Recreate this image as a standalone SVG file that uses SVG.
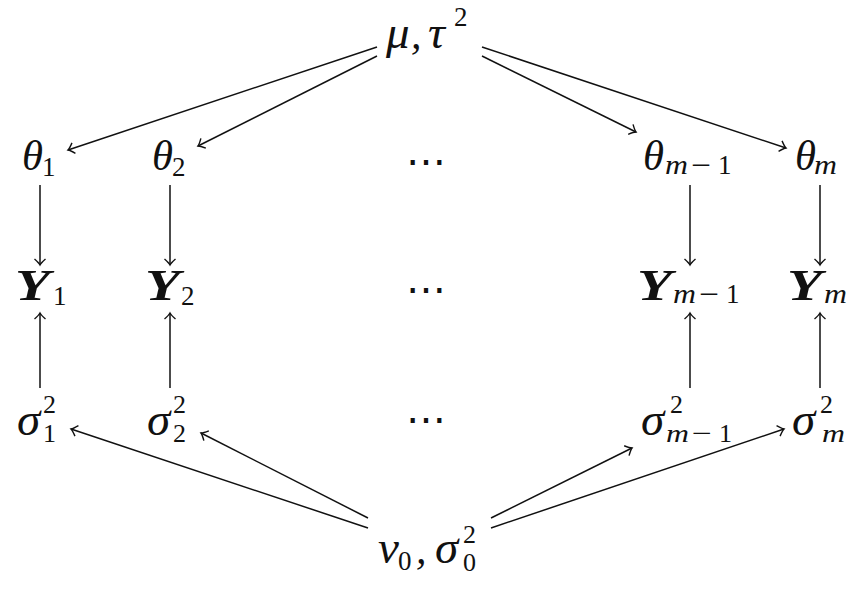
<svg xmlns="http://www.w3.org/2000/svg" width="866" height="589" viewBox="0 0 866 589">
<style>
text{font-family:"Liberation Serif","DejaVu Serif",serif;fill:#111}
.m{font-style:italic;font-size:42px}
.g{font-style:italic;font-size:47px}
.b{font-style:italic;font-weight:bold;font-size:44px}
.s{font-style:normal;font-weight:normal;font-size:27px}
.t{font-style:normal;font-weight:normal;font-size:26px}
.si{font-style:italic;font-weight:normal;font-size:27px}
.ti{font-style:italic;font-weight:normal;font-size:26px}
.d{font-family:"DejaVu Serif",serif;font-size:40px}
.e{stroke:#111;stroke-width:1.5;fill:none;marker-end:url(#ah)}
</style>
<defs>
<marker id="ah" markerUnits="userSpaceOnUse" markerWidth="20" markerHeight="20" refX="0" refY="0" viewBox="-10 -10 20 20" orient="auto">
<path d="M-6,-5.5 Q-2,-1 0,0 Q-2,1 -6,5.5" stroke="#111" stroke-width="1.4" fill="none"/>
</marker>
</defs>
<g id="connectors">
<line class="e" x1="377" y1="47" x2="68" y2="150"/>
<line class="e" x1="377" y1="56" x2="198" y2="146"/>
<line class="e" x1="482" y1="56" x2="636" y2="132"/>
<line class="e" x1="482" y1="47" x2="786" y2="148"/>
<line class="e" x1="40" y1="185" x2="40" y2="265"/>
<line class="e" x1="170" y1="185" x2="170" y2="265"/>
<line class="e" x1="690" y1="185" x2="690" y2="265"/>
<line class="e" x1="820" y1="185" x2="820" y2="265"/>
<line class="e" x1="40" y1="388" x2="40" y2="313"/>
<line class="e" x1="170" y1="388" x2="170" y2="313"/>
<line class="e" x1="690" y1="388" x2="690" y2="313"/>
<line class="e" x1="820" y1="388" x2="820" y2="313"/>
<line class="e" x1="368" y1="528" x2="71" y2="429"/>
<line class="e" x1="368" y1="518" x2="201" y2="433"/>
<line class="e" x1="491" y1="518" x2="632" y2="448"/>
<line class="e" x1="491" y1="528" x2="784" y2="429"/>
</g>
<g id="mu_tau">
<text><tspan class="g" x="386" y="48">μ</tspan><tspan class="m" x="411" y="48">,</tspan><tspan class="g" x="428" y="48">τ</tspan><tspan class="s" x="454" y="26">2</tspan></text>
</g>
<g id="theta1"><text><tspan class="m" x="22" y="170" textLength="21" lengthAdjust="spacingAndGlyphs">θ</tspan><tspan class="s" x="42" y="176">1</tspan></text></g>
<g id="theta2"><text><tspan class="m" x="152" y="170" textLength="21" lengthAdjust="spacingAndGlyphs">θ</tspan><tspan class="s" x="172" y="176">2</tspan></text></g>
<g id="dots1"><text class="d" x="426" y="175" text-anchor="middle">⋯</text></g>
<g id="theta_m1"><text><tspan class="m" x="643" y="170" textLength="21" lengthAdjust="spacingAndGlyphs">θ</tspan><tspan class="si" x="665" y="174" textLength="23" lengthAdjust="spacingAndGlyphs">m</tspan><tspan class="s" x="691" y="174" textLength="20" lengthAdjust="spacingAndGlyphs">−</tspan><tspan class="s" x="718" y="174">1</tspan></text></g>
<g id="theta_m"><text><tspan class="m" x="795" y="170" textLength="21" lengthAdjust="spacingAndGlyphs">θ</tspan><tspan class="si" x="814" y="174" textLength="23" lengthAdjust="spacingAndGlyphs">m</tspan></text></g>
<g id="Y1"><text><tspan class="b" x="15" y="300" textLength="35" lengthAdjust="spacingAndGlyphs">Y</tspan><tspan class="s" x="53" y="305">1</tspan></text></g>
<g id="Y2"><text><tspan class="b" x="145" y="300" textLength="35" lengthAdjust="spacingAndGlyphs">Y</tspan><tspan class="s" x="181" y="305">2</tspan></text></g>
<g id="dots2"><text class="d" x="426" y="303" text-anchor="middle">⋯</text></g>
<g id="Y_m1"><text><tspan class="b" x="637" y="300" textLength="35" lengthAdjust="spacingAndGlyphs">Y</tspan><tspan class="si" x="673" y="303" textLength="23" lengthAdjust="spacingAndGlyphs">m</tspan><tspan class="s" x="699" y="303" textLength="20" lengthAdjust="spacingAndGlyphs">−</tspan><tspan class="s" x="726" y="303">1</tspan></text></g>
<g id="Y_m"><text><tspan class="b" x="787" y="300" textLength="35" lengthAdjust="spacingAndGlyphs">Y</tspan><tspan class="si" x="824" y="303" textLength="23" lengthAdjust="spacingAndGlyphs">m</tspan></text></g>
<g id="sigma1"><text><tspan class="g" x="17" y="435">σ</tspan><tspan class="t" x="43" y="413">2</tspan><tspan class="t" x="43" y="442">1</tspan></text></g>
<g id="sigma2"><text><tspan class="g" x="147" y="435">σ</tspan><tspan class="t" x="173" y="413">2</tspan><tspan class="t" x="173" y="442">2</tspan></text></g>
<g id="dots3"><text class="d" x="426" y="433" text-anchor="middle">⋯</text></g>
<g id="sigma_m1"><text><tspan class="g" x="641" y="435">σ</tspan><tspan class="t" x="670" y="413">2</tspan><tspan class="ti" x="666" y="442" textLength="23" lengthAdjust="spacingAndGlyphs">m</tspan><tspan class="t" x="692" y="442" textLength="20" lengthAdjust="spacingAndGlyphs">−</tspan><tspan class="t" x="719" y="442">1</tspan></text></g>
<g id="sigma_m"><text><tspan class="g" x="792" y="435">σ</tspan><tspan class="t" x="820" y="413">2</tspan><tspan class="ti" x="822" y="442" textLength="23" lengthAdjust="spacingAndGlyphs">m</tspan></text></g>
<g id="nu_sigma0">
<text><tspan class="g" x="378" y="563">ν</tspan><tspan class="s" x="398" y="570">0</tspan><tspan class="m" x="416" y="563">,</tspan><tspan class="g" x="435" y="563">σ</tspan><tspan class="t" x="463" y="543">2</tspan><tspan class="t" x="463" y="571">0</tspan></text>
</g>
</svg>
